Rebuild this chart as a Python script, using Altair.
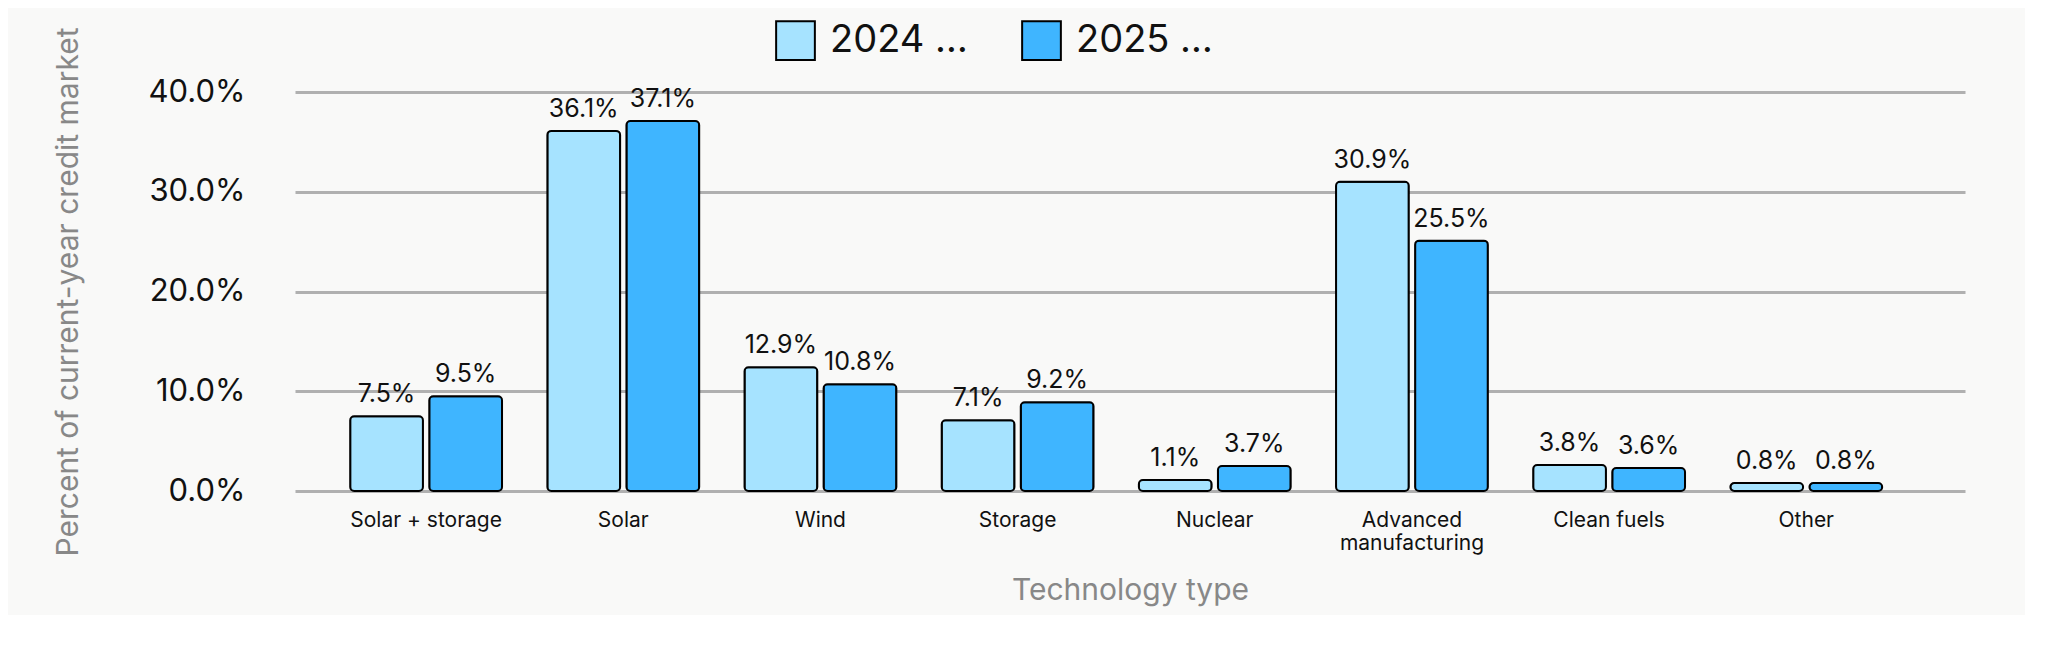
import pandas as pd
import altair as alt

categories = ["Solar + storage", "Solar", "Wind", "Storage", "Nuclear",
              "Advanced manufacturing", "Clean fuels", "Other"]
series = ["2024 MIR", "2025 MIR"]
values_2024 = [7.5, 36.1, 12.4, 7.1, 1.1, 31.0, 2.6, 0.8]
values_2025 = [9.5, 37.1, 10.7, 8.9, 2.5, 25.1, 2.3, 0.8]
labels_2024 = ["7.5%", "36.1%", "12.9%", "7.1%", "1.1%", "30.9%", "3.8%", "0.8%"]
labels_2025 = ["9.5%", "37.1%", "10.8%", "9.2%", "3.7%", "25.5%", "3.6%", "0.8%"]

rows = []
for c, v, l in zip(categories, values_2024, labels_2024):
    rows.append({"tech": c, "series": series[0], "value": v, "label": l})
for c, v, l in zip(categories, values_2025, labels_2025):
    rows.append({"tech": c, "series": series[1], "value": v, "label": l})
source = pd.DataFrame(rows)

font = "Inter"

x = alt.X("tech:N", sort=categories, title="Technology type",
          scale=alt.Scale(paddingInner=0.23, paddingOuter=0.35, align=0.4),
          axis=alt.Axis(labelAngle=0, labelFontSize=21, labelColor="#111",
                        labelFont=font, labelPadding=18, ticks=False, domain=False,
                        titleFont=font, titleFontSize=30, titleColor="#888",
                        titleFontWeight="normal", titlePadding=22,
                        labelExpr="datum.value == 'Advanced manufacturing' ? ['Advanced', 'manufacturing'] : datum.value"))
xo = alt.XOffset("series:N", sort=series, scale=alt.Scale(paddingInner=0.08))

base = alt.Chart(source)

bars = base.mark_bar(stroke="black", strokeWidth=2, cornerRadius=4).encode(
    x=x,
    xOffset=xo,
    y=alt.Y("value:Q", title="Percent of current-year credit market",
            scale=alt.Scale(domain=[0, 40]),
            axis=alt.Axis(values=[0, 10, 20, 30, 40], labelFontSize=31, labelFont=font,
                          labelColor="#111", labelPadding=50,
                          labelExpr="format(datum.value, '.1f') + '%'",
                          ticks=False, domain=False, gridColor="#b0b0b0", gridWidth=3,
                          titleFont=font, titleFontSize=30, titleColor="#888",
                          titleFontWeight="normal", titlePadding=65)),
    color=alt.Color("series:N", sort=series, title=None,
                    scale=alt.Scale(domain=series, range=["#a6e3ff", "#3fb5ff"]),
                    legend=alt.Legend(orient="none", legendX=480, legendY=-72,
                                      direction="horizontal",
                                      symbolType="square", symbolSize=1500,
                                      symbolStrokeColor="black", symbolStrokeWidth=2,
                                      labelFontSize=38, labelFont=font, labelColor="#111",
                                      labelOffset=14, columnPadding=50)),
)

text = base.mark_text(baseline="bottom", dy=-9, fontSize=25, font=font, color="#111").encode(
    x=alt.X("tech:N", sort=categories),
    xOffset=xo,
    y="value:Q",
    text="label:N",
)

chart = (bars + text).properties(
    width=1670, height=399, background="#f9f9f8",
    padding={"left": 45, "top": 12, "right": 60, "bottom": 10},
).configure_view(stroke=None)

chart.save("out.html", embed_options={"renderer": "svg", "actions": False})
